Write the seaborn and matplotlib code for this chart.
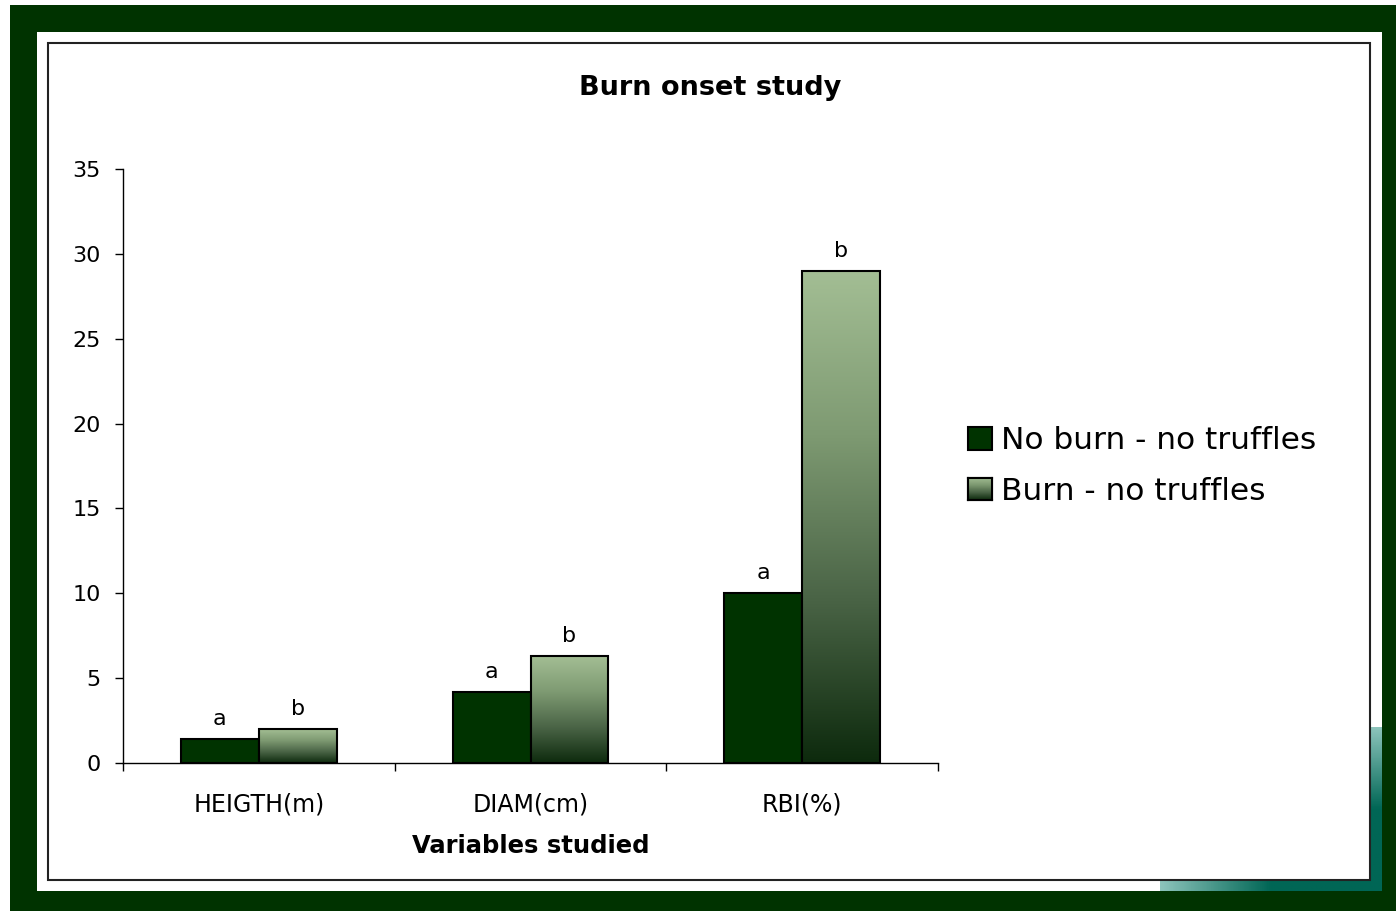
import numpy as np
import pandas as pd
import seaborn as sns
import matplotlib
import matplotlib.pyplot as plt
from matplotlib.patches import Rectangle
from matplotlib.colors import LinearSegmentedColormap

matplotlib.use('Agg')

# Data
categories = ["HEIGTH(m)", "DIAM(cm)", "RBI(%)"]
groups = ["No burn - no truffles", "Burn - no truffles"]
no_burn = [1.4, 4.2, 10.0]
burn = [2.0, 6.3, 29.0]
letters_no_burn = ["a", "a", "a"]
letters_burn = ["b", "b", "b"]

df = pd.DataFrame({
    "var": categories * 2,
    "val": no_burn + burn,
    "group": [groups[0]] * 3 + [groups[1]] * 3,
})

# Colours
dark = "#003300"
light = "#8eab80"
grad = LinearSegmentedColormap.from_list(
    "g", ["#0d2a0d", "#4a6446", "#7e9a72", "#a3be94"])

W, H = 1396, 911
fig = plt.figure(figsize=(W / 100, H / 100), dpi=100, facecolor="white")

def px_rect(x0, y0, x1, y1, **kw):
    # rectangle in pixel coords (origin top left)
    return Rectangle((x0 / W, 1 - y1 / H), (x1 - x0) / W, (y1 - y0) / H,
                     transform=fig.transFigure, **kw)

def px_axes(x0, y0, x1, y1, **kw):
    return fig.add_axes([x0 / W, 1 - y1 / H, (x1 - x0) / W, (y1 - y0) / H], **kw)

# frame
fig.patches.append(px_rect(10, 5, W, H, facecolor=dark, edgecolor="none", zorder=0))
fig.patches.append(px_rect(37, 32, 1382, 891, facecolor="white", edgecolor="none", zorder=1))

# teal shadow strips
teal = LinearSegmentedColormap.from_list("t", ["#006655", "#006655", "#8cc4bb"])
ax_r = px_axes(1370, 727, 1382, 891, zorder=2)
ax_r.imshow(np.linspace(1, 0, 100).reshape(-1, 1), aspect="auto", cmap=teal)
ax_r.axis("off")
ax_b = px_axes(1160, 880, 1382, 891, zorder=2)
ax_b.imshow(np.linspace(1, 0, 100).reshape(1, -1), aspect="auto", cmap=teal)
ax_b.axis("off")

fig.patches.append(px_rect(48, 43, 1370, 880, facecolor="none", edgecolor="#222222",
                           linewidth=1.5, zorder=3))

# main axes
ax = px_axes(123, 169, 938, 763, zorder=4)
ax.set_facecolor("none")

sns.barplot(data=df, x="var", y="val", hue="group", palette=[dark, light],
            width=0.574, gap=0, saturation=1, edgecolor="black", linewidth=1.5,
            ax=ax, legend=False)

# gradient fill for the burn bars
bars = ax.patches
burn_bars = bars[3:6]
for p in burn_bars:
    x0, y0 = p.get_x(), p.get_y()
    w, h = p.get_width(), p.get_height()
    im = ax.imshow(np.linspace(0, 1, 256).reshape(-1, 1), cmap=grad, origin="lower",
                   extent=[x0, x0 + w, y0, y0 + h], aspect="auto", zorder=1.5)
    im.set_clip_path(p)
    p.set_facecolor("none")
    p.set_zorder(2)
ax.set_xlim(-0.5, 2.5)
ax.set_ylim(0, 35)
ax.set_aspect("auto")

# letters
for p, t in zip(bars[0:3], letters_no_burn):
    ax.text(p.get_x() + p.get_width() / 2, p.get_height() + 0.6, t,
            ha="center", va="bottom", fontsize=16)
for p, t in zip(burn_bars, letters_burn):
    ax.text(p.get_x() + p.get_width() / 2, p.get_height() + 0.6, t,
            ha="center", va="bottom", fontsize=16)

# spines / ticks
for s in ["top", "right"]:
    ax.spines[s].set_visible(False)
ax.spines["left"].set_linewidth(1)
ax.spines["bottom"].set_linewidth(1)
ax.set_yticks(range(0, 36, 5))
ax.tick_params(axis="y", length=6, width=1, pad=10, labelsize=16)
ax.set_xticks([-0.5, 0.5, 1.5, 2.5], minor=True)
ax.tick_params(axis="x", which="minor", length=6, width=1)
ax.tick_params(axis="x", which="major", length=0, pad=21, labelsize=17)
ax.set_ylabel("")
ax.set_xlabel("Variables studied", fontsize=17.5, fontweight="bold", labelpad=13)

fig.text(710 / W, 1 - 88 / H, "Burn onset study", ha="center", va="center",
         fontsize=19.5, fontweight="bold")

# legend
handles = [Rectangle((0, 0), 1, 1, facecolor=dark, edgecolor="black", linewidth=1.5),
           Rectangle((0, 0), 1, 1, facecolor=light, edgecolor="black", linewidth=1.5)]
leg = fig.legend(handles, groups, loc="center left", bbox_to_anchor=(940 / W, 1 - 466 / H),
                 frameon=False, fontsize=22.5, handlelength=0.75, handleheight=0.75,
                 handletextpad=0.3, labelspacing=0.7)

# gradient on the second legend handle
fig.canvas.draw()
bb = leg.get_patches()[1].get_window_extent().transformed(fig.transFigure.inverted())
ax_h = fig.add_axes([bb.x0, bb.y0, bb.width, bb.height], zorder=6)
ax_h.imshow(np.linspace(1, 0, 64).reshape(-1, 1), cmap=grad, aspect="auto")
ax_h.set_xticks([])
ax_h.set_yticks([])
for s in ax_h.spines.values():
    s.set_linewidth(1.5)

fig.savefig("out.png", dpi=100, facecolor=fig.get_facecolor())
